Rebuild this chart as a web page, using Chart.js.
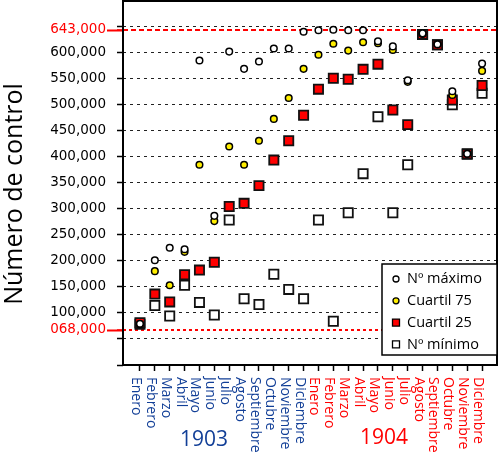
<!DOCTYPE html>
<html lang="es">
<head>
  <meta charset="UTF-8">
  <meta name="viewport" content="width=device-width, initial-scale=1.0">
  <title>Número de control</title>
  <script src="https://cdn.jsdelivr.net/npm/chart.js@4.4.1/dist/chart.umd.min.js"></script>
  <style>
    html, body { margin: 0; padding: 0; background: #fff; }
    #chart-canvas { display: block; }
  </style>
</head>
<body>
  <canvas id="chart-canvas" width="500" height="454"></canvas>
  <script>
    // months of both years, one point per month
    const months = ['Enero', 'Febrero', 'Marzo', 'Abril', 'Mayo', 'Junio', 'Julio',
      'Agosto', 'Septiembre', 'Octubre', 'Noviembre', 'Diciembre'];
    const years = ['1903', '1904'];

    const maxVals = [79000, 201000, 225000, 222000, 584000, 286000, 601000, 568000, 582000, 607000, 607000, 639000,
      642000, 643000, 642000, 642000, 621000, 611000, 546000, 636000, 615000, 525000, 405000, 578000];
    const q75Vals = [78000, 180000, 153000, 217000, 384000, 276000, 419000, 384000, 430000, 472000, 512000, 568000,
      595000, 616000, 603000, 619000, 617000, 604000, 543000, 635000, 615000, 518000, 405000, 564000];
    const q25Vals = [81000, 136000, 121000, 173000, 182000, 197000, 304000, 310000, 344000, 393000, 430000, 479000,
      529000, 550000, 548000, 567000, 577000, 489000, 461000, 634000, 614000, 508000, 405000, 536000];
    const minVals = [78000, 114000, 94000, 153000, 120000, 96000, 278000, 127000, 116000, 174000, 145000, 127000,
      278000, 84000, 292000, 367000, 476000, 292000, 384000, 634000, 614000, 499000, 404000, 521000];

    const yTickValues = [0, 50000, 68000, 100000, 150000, 200000, 250000, 300000, 350000, 400000,
      450000, 500000, 550000, 600000, 643000, 650000, 700000];
    const markedValues = [68000, 643000];
    const hiddenLabels = [0, 50000, 650000, 700000];

    const BLUE = '#123f97';
    const RED = '#ff0000';

    const xLabels = months.concat(months);
    const toPoints = vals => vals.map((v, i) => ({ x: i, y: v }));
    const isMarked = v => markedValues.includes(v);

    function fmt(v) {
      const s = String(v).padStart(6, '0');
      return s.slice(0, s.length - 3) + ',' + s.slice(-3);
    }

    const legendItems = [
      { text: 'Nº máximo', shape: 'circle', fill: '#ffffff' },
      { text: 'Cuartil 75', shape: 'circle', fill: '#ffee00' },
      { text: 'Cuartil 25', shape: 'rect', fill: '#ff0000' },
      { text: 'Nº mínimo', shape: 'rect', fill: '#ffffff' }
    ];

    const decorations = {
      id: 'decorations',
      afterDraw(chart) {
        const ctx = chart.ctx;
        const area = chart.chartArea;
        const xs = chart.scales.x;
        const ys = chart.scales.y;
        ctx.save();

        // red tick extensions for the marked values
        ctx.strokeStyle = RED;
        ctx.lineWidth = 2;
        markedValues.forEach(v => {
          const y = Math.round(ys.getPixelForValue(v)) + 0.5;
          ctx.beginPath();
          ctx.moveTo(area.left - 16, y);
          ctx.lineTo(area.left, y);
          ctx.stroke();
        });

        // frame round the plot
        ctx.strokeStyle = '#000';
        ctx.lineWidth = 2;
        ctx.strokeRect(area.left, area.top + 1, area.right - area.left - 1, area.bottom - area.top - 1);

        // month labels, rotated clockwise
        ctx.font = '14px "Open Sans"';
        ctx.textAlign = 'left';
        ctx.textBaseline = 'middle';
        xLabels.forEach((label, i) => {
          const x = xs.getPixelForValue(i);
          ctx.save();
          ctx.translate(x - 4, area.bottom + 12);
          ctx.rotate(Math.PI / 2);
          ctx.fillStyle = i < 12 ? BLUE : RED;
          ctx.fillText(label, 0, 0);
          ctx.restore();
        });

        // year labels
        ctx.font = '21px "Open Sans"';
        ctx.textAlign = 'center';
        ctx.fillStyle = BLUE;
        ctx.fillText(years[0], xs.getPixelForValue(4.3), 440);
        ctx.fillStyle = RED;
        ctx.fillText(years[1], xs.getPixelForValue(16.4), 438);

        // y axis title
        ctx.save();
        ctx.translate(15, 194);
        ctx.rotate(-Math.PI / 2);
        ctx.fillStyle = '#000';
        ctx.font = '25px "Open Sans"';
        ctx.fillText('Número de control', 0, 0);
        ctx.restore();

        // legend box
        const lw = 115, lh = 91;
        const lx = area.right - lw - 1, ly = area.bottom - lh - 10;
        ctx.fillStyle = '#fff';
        ctx.fillRect(lx, ly, lw, lh);
        ctx.strokeStyle = '#000';
        ctx.lineWidth = 1.5;
        ctx.strokeRect(lx, ly, lw, lh);
        ctx.font = '14.5px "Open Sans"';
        ctx.textAlign = 'left';
        legendItems.forEach((item, k) => {
          const cy = ly + 15 + k * 21.8;
          const cx = lx + 14;
          ctx.fillStyle = item.fill;
          ctx.strokeStyle = '#000';
          ctx.lineWidth = 1.3;
          ctx.beginPath();
          if (item.shape === 'circle') {
            ctx.arc(cx, cy, 3, 0, Math.PI * 2);
          } else {
            ctx.rect(cx - 3.5, cy - 3.5, 7, 7);
          }
          ctx.fill();
          ctx.stroke();
          ctx.fillStyle = '#000';
          ctx.fillText(item.text, lx + 25, cy);
        });

        ctx.restore();
      }
    };

    const ctx = document.getElementById('chart-canvas').getContext('2d');
    new Chart(ctx, {
      type: 'scatter',
      data: {
        datasets: [
          { label: 'Nº máximo', data: toPoints(maxVals), pointStyle: 'circle', pointRadius: 3.3,
            backgroundColor: '#ffffff', borderColor: '#000', borderWidth: 1.5 },
          { label: 'Cuartil 75', data: toPoints(q75Vals), pointStyle: 'circle', pointRadius: 3.3,
            backgroundColor: '#ffee00', borderColor: '#000', borderWidth: 1.5 },
          { label: 'Cuartil 25', data: toPoints(q25Vals), pointStyle: 'rect', pointRadius: 6.5,
            backgroundColor: '#ff0000', borderColor: '#111', borderWidth: 1.8 },
          { label: 'Nº mínimo', data: toPoints(minVals), pointStyle: 'rect', pointRadius: 6.5,
            backgroundColor: '#ffffff', borderColor: '#111', borderWidth: 1.8 }
        ]
      },
      options: {
        responsive: false,
        animation: false,
        events: [],
        layout: { autoPadding: false, padding: { top: 0, right: 2, bottom: 0, left: 0 } },
        plugins: {
          legend: { display: false },
          tooltip: { enabled: false }
        },
        scales: {
          x: {
            type: 'linear',
            min: -1.14,
            max: 24.07,
            afterBuildTicks: scale => { scale.ticks = xLabels.map((l, i) => ({ value: i })); },
            afterFit: scale => {
              scale.height = 89;
              scale.paddingLeft = 0;
              scale.paddingRight = 0;
            },
            ticks: { display: false },
            grid: { drawOnChartArea: false, drawTicks: true, tickLength: 6, color: '#000', tickWidth: 1.5 },
            border: { display: false }
          },
          y: {
            type: 'linear',
            min: 0,
            max: 700000,
            afterBuildTicks: scale => { scale.ticks = yTickValues.map(v => ({ value: v })); },
            afterFit: scale => {
              scale.width = 123;
              scale.paddingTop = 0;
              scale.paddingBottom = 0;
            },
            ticks: {
              padding: 11,
              font: { family: '"DejaVu Sans"', size: 13.5 },
              color: c => (c.tick && isMarked(c.tick.value)) ? RED : '#000',
              callback: v => hiddenLabels.includes(v) ? '' : fmt(v)
            },
            grid: {
              tickLength: 6,
              tickWidth: 1.5,
              color: c => {
                const v = c.tick ? c.tick.value : null;
                if (v === 0 || v === 700000) return 'rgba(0,0,0,0)';
                return isMarked(v) ? RED : '#222';
              },
              lineWidth: c => (c.tick && isMarked(c.tick.value)) ? 2 : 1,
              tickColor: c => {
                const v = c.tick ? c.tick.value : null;
                if (v === 700000) return 'rgba(0,0,0,0)';
                return isMarked(v) ? RED : '#000';
              }
            },
            border: {
              display: false,
              dash: c => {
                if (!c.tick) return [];
                if (c.tick.value === 643000) return [5, 3];
                if (c.tick.value === 68000) return [3, 3];
                return [3, 4];
              }
            }
          }
        }
      },
      plugins: [decorations]
    });
  </script>
</body>
</html>
